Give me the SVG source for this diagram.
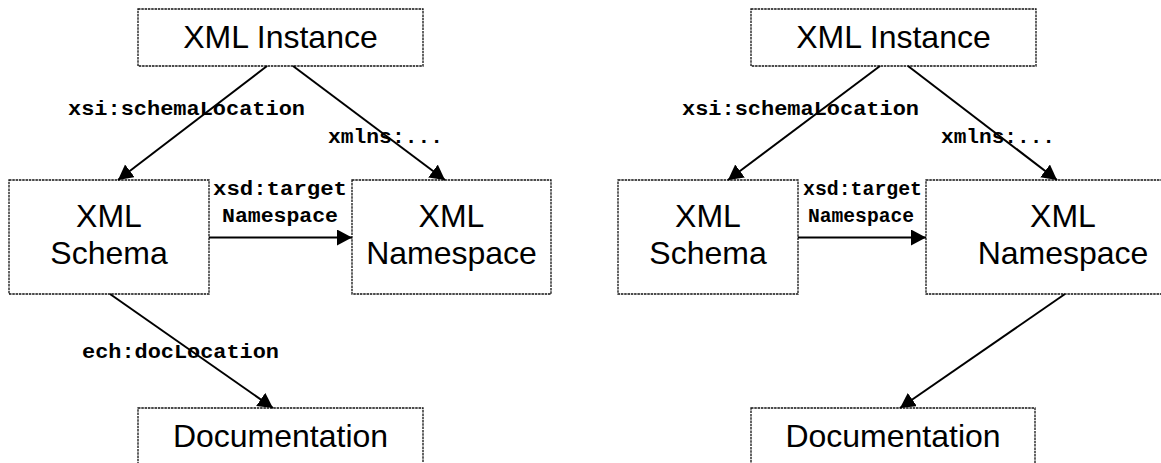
<svg xmlns="http://www.w3.org/2000/svg" width="1161" height="463" viewBox="0 0 1161 463">
<style>
.box{fill:#fff;stroke:#111;stroke-width:1.3;stroke-dasharray:2.5 0.8}
.nt{font-family:"Liberation Sans",Arial,sans-serif;font-size:32px;fill:#000;text-anchor:middle}
.lbl{font-family:"Liberation Mono","Courier New",monospace;font-weight:bold;font-size:20px;fill:#000}
.edge{stroke:#000;stroke-width:2;fill:none;marker-end:url(#ah)}
</style>
<defs>
<marker id="ah" markerUnits="userSpaceOnUse" markerWidth="17" markerHeight="17" refX="15" refY="8" orient="auto">
<path d="M0,0 L15,8 L0,16 z" fill="#000"/>
</marker>
</defs>
<rect width="1161" height="463" fill="#fff"/>

<g id="left-instance"><rect class="box" x="138" y="9" width="285" height="57"/><text class="nt" x="280.5" y="48">XML Instance</text></g>
<g id="left-schema"><rect class="box" x="9" y="180" width="200" height="114"/><text class="nt" x="109" y="226.5">XML</text><text class="nt" x="109" y="264">Schema</text></g>
<g id="left-namespace"><rect class="box" x="352" y="180" width="199" height="114"/><text class="nt" x="451.5" y="226.5">XML</text><text class="nt" x="451.5" y="264">Namespace</text></g>
<g id="left-doc"><rect class="box" x="138" y="408" width="285" height="70"/><text class="nt" x="280.5" y="446.5">Documentation</text></g>

<g id="right-instance"><rect class="box" x="751" y="9" width="285" height="57"/><text class="nt" x="893.5" y="48">XML Instance</text></g>
<g id="right-schema"><rect class="box" x="618" y="180" width="180" height="114"/><text class="nt" x="708" y="226.5">XML</text><text class="nt" x="708" y="264">Schema</text></g>
<g id="right-namespace"><rect class="box" x="926" y="180" width="274" height="114"/><text class="nt" x="1063" y="226.5">XML</text><text class="nt" x="1063" y="264">Namespace</text></g>
<g id="right-doc"><rect class="box" x="751" y="408" width="284" height="70"/><text class="nt" x="893" y="446.5">Documentation</text></g>

<g id="connectors">
<line class="edge" x1="267" y1="66" x2="118" y2="180"/>
<line class="edge" x1="293" y1="66" x2="445" y2="180"/>
<line class="edge" x1="209" y1="237.5" x2="352" y2="237.5"/>
<line class="edge" x1="110" y1="294" x2="273" y2="408"/>

<line class="edge" x1="880" y1="66" x2="728" y2="180"/>
<line class="edge" x1="908" y1="66" x2="1057" y2="180"/>
<line class="edge" x1="798" y1="237.5" x2="926" y2="237.5"/>
<line class="edge" x1="1065" y1="294" x2="900" y2="408"/>

<text class="lbl" x="68" y="115" textLength="237" lengthAdjust="spacingAndGlyphs">xsi:schemaLocation</text>
<text class="lbl" x="328" y="143" textLength="115" lengthAdjust="spacingAndGlyphs">xmlns:...</text>
<text class="lbl" x="213" y="195" textLength="134" lengthAdjust="spacingAndGlyphs">xsd:target</text>
<text class="lbl" x="222" y="221.5" textLength="116" lengthAdjust="spacingAndGlyphs">Namespace</text>
<text class="lbl" x="82" y="357.5" textLength="197" lengthAdjust="spacingAndGlyphs">ech:docLocation</text>

<text class="lbl" x="682" y="115" textLength="237" lengthAdjust="spacingAndGlyphs">xsi:schemaLocation</text>
<text class="lbl" x="941" y="143" textLength="114" lengthAdjust="spacingAndGlyphs">xmlns:...</text>
<text class="lbl" x="803" y="195" textLength="119" lengthAdjust="spacingAndGlyphs">xsd:target</text>
<text class="lbl" x="808" y="221.5" textLength="106" lengthAdjust="spacingAndGlyphs">Namespace</text>
</g>
</svg>
